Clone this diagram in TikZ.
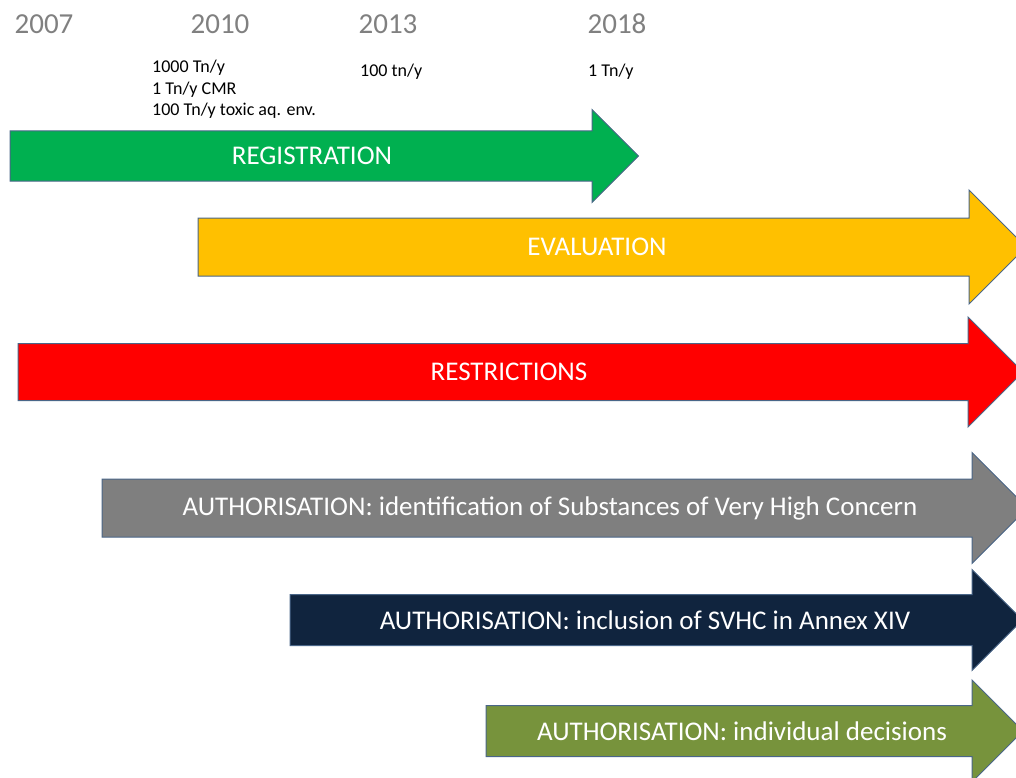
\documentclass[tikz,border=0pt]{standalone}
\usepackage{fontspec}
\setmainfont{Carlito}
\definecolor{regGreen}{HTML}{00B050}
\definecolor{evalGold}{HTML}{FFC000}
\definecolor{restrRed}{HTML}{FF0000}
\definecolor{svhcGray}{HTML}{7F7F7F}
\definecolor{annexNavy}{HTML}{10243E}
\definecolor{decisOlive}{HTML}{77933C}
\definecolor{edgeBlue}{HTML}{4A6688}

\begin{document}
\begin{tikzpicture}[x=1pt, y=-1pt,
  year/.style={font=\fontsize{29}{29}\selectfont, text=black!50, inner sep=0pt},
  note/.style={font=\fontsize{18}{21.5}\selectfont, text=black, inner sep=0pt,
               anchor=north west, align=left},
  lbl/.style={font=\fontsize{27}{27}\selectfont, text=white, inner sep=0pt},
  band/.style={draw=edgeBlue, line width=1pt, line join=miter}]
  \clip (0,0) rectangle (1016,778);
  % years and tonnage thresholds
  \node[year] (y2007) at (44,24)  {2007};
  \node[year] (y2010) at (220,24) {2010};
  \node[year] (y2013) at (388,24) {2013};
  \node[year] (y2018) at (617,24) {2018};
  \node[note] (t2010) at (152,60) {1000 Tn/y\\1 Tn/y CMR\\100 Tn/y toxic aq. env.};
  \node[note] (t2013) at (360,64) {100 tn/y};
  \node[note] (t2018) at (588,64) {1 Tn/y};
  % process arrows
  \foreach \nm/\xa/\xb/\yc/\bh/\hh/\col/\lx/\txt in {
      reg/10/592/156/25/46.5/regGreen/312/REGISTRATION,
      eval/198/969/247/29/57/evalGold/597/EVALUATION,
      restr/18/968/372/28.5/55/restrRed/509/RESTRICTIONS,
      svhc/102/972/508/29/55.5/svhcGray/550/AUTHORISATION: identification of Substances of Very High Concern,
      annex/290/972/620/25.5/50.5/annexNavy/645/AUTHORISATION: inclusion of SVHC in Annex XIV,
      decis/486/972/731/25.5/51/decisOlive/742/AUTHORISATION: individual decisions}
  {
    \filldraw[band, fill=\col] (\xa,\yc-\bh) -- (\xb,\yc-\bh) -- (\xb,\yc-\hh)
      -- (\xb+\hh,\yc) -- (\xb,\yc+\hh) -- (\xb,\yc+\bh) -- (\xa,\yc+\bh) -- cycle;
    \node[lbl] (\nm) at (\lx,\yc) {\txt};
  }
\end{tikzpicture}
\end{document}
